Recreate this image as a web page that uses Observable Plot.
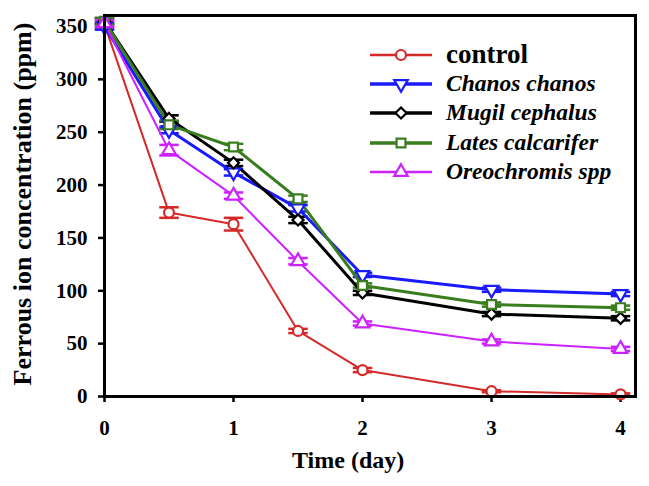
<!DOCTYPE html>
<html>
<head>
<meta charset="utf-8">
<script src="https://cdn.jsdelivr.net/npm/d3@7"></script>
<script src="https://cdn.jsdelivr.net/npm/@observablehq/plot@0.6"></script>
<style>
  body { margin: 0; background: #fff; }
  #wrap { position: relative; width: 649px; height: 486px; }
  .axlab { position: absolute; font-weight: bold; font-size: 24px; color: #000; white-space: nowrap; }
  #legend { position: absolute; left: 368px; top: 40px; }
  .row { display: flex; align-items: center; height: 29.3px; }
  .row span { margin-left: 14px; font-weight: bold; font-style: italic; font-size: 23.5px; line-height: 1; }
  .row span.ctrl { font-style: normal; font-size: 27px; }
</style>
</head>
<body>
<div id="wrap">
  <div id="chartbox"></div>
  <div class="axlab" id="xlab" style="font-family:'Liberation Serif';left:292px;top:447px"></div>
  <div class="axlab" id="ylab" style="font-family:'Liberation Serif';font-size:26px;left:23px;top:204px;transform:translate(-50%,-50%) rotate(-90deg)"></div>
  <div id="legend"></div>
</div>
<script>
const days = [0, 0.5, 1, 1.5, 2, 3, 4];
const seriesNames = ["control", "Chanos chanos", "Mugil cephalus", "Lates calcarifer", "Oreochromis spp"];
const control = [352, 174, 163, 62, 25, 5, 2];
const chanos  = [350, 252, 212, 178, 115, 101, 97];
const mugil   = [355, 263, 221, 167, 98, 78, 74];
const lates   = [355, 257, 236, 187, 105, 87, 84];
const oreo    = [353, 233, 190, 128, 69, 52, 45];
const controlErr = [3, 5, 6, 2, 2, 1, 1];
const chanosErr  = [3, 3, 3, 3, 2, 2, 2];
const mugilErr   = [3, 3, 3, 3, 2, 2, 2];
const latesErr   = [3, 4, 3, 3, 2, 2, 2];
const oreoErr    = [3, 5, 3, 3, 2, 2, 2];
const colors  = ["#d42a2a", "#1a1aff", "#000000", "#3a7d1f", "#cc22ff"];
const symbols = ["circle", "triangle", "diamond2", "square", "triangle"];
const rotates = [0, 180, 0, 0, 0];
const widths  = [2, 3, 3, 3, 2];
const xTicks = [0, 1, 2, 3, 4];
const yTicks = [0, 50, 100, 150, 200, 250, 300, 350];
const xLabel = "Time (day)";
const yLabel = "Ferrous ion concentration (ppm)";

const FONT = "Liberation Serif";
const valueSets = [control, chanos, mugil, lates, oreo];
const errSets = [controlErr, chanosErr, mugilErr, latesErr, oreoErr];
const series = seriesNames.map((name, i) => ({
  name, color: colors[i], symbol: symbols[i], rotate: rotates[i], width: widths[i],
  data: days.map((d, j) => ({x: d, y: valueSets[i][j], e: errSets[i][j]}))
}));

const capSymbol = { draw(ctx, size) { const w = Math.sqrt(size) * 1.1; ctx.moveTo(-w, 0); ctx.lineTo(w, 0); } };
const R = 5;

const marks = [];
for (const s of series) {
  marks.push(Plot.ruleX(s.data, {x: "x", y1: d => d.y - d.e, y2: d => d.y + d.e, stroke: s.color, strokeWidth: 2}));
  marks.push(Plot.dot(s.data, {x: "x", y: d => d.y - d.e, symbol: capSymbol, r: 5, stroke: s.color, strokeWidth: 2.5}));
  marks.push(Plot.dot(s.data, {x: "x", y: d => d.y + d.e, symbol: capSymbol, r: 5, stroke: s.color, strokeWidth: 2.5}));
}
for (const s of series) {
  marks.push(Plot.line(s.data, {x: "x", y: "y", stroke: s.color, strokeWidth: s.width}));
}
for (const s of series) {
  marks.push(Plot.dot(s.data, {x: "x", y: "y", symbol: s.symbol, rotate: s.rotate, r: R, fill: "white", stroke: s.color, strokeWidth: 2.2}));
}

const chart = Plot.plot({
  width: 649, height: 486,
  marginLeft: 104, marginRight: 14, marginTop: 15, marginBottom: 90,
  x: {domain: [0, 4.116]},
  y: {domain: [0, 360.4]},
  style: {fontFamily: FONT, fontSize: "21px", fontWeight: "bold", color: "#000", background: "#fff"},
  marks: [
    Plot.axisX({ticks: xTicks, tickSize: 6, tickPadding: 18, tickFormat: d => d, label: null, strokeWidth: 2.5, fontFamily: FONT, fontSize: 21, fontWeight: "bold"}),
    Plot.axisY({ticks: yTicks, tickSize: 6, tickPadding: 11, tickFormat: d => d, label: null, strokeWidth: 2.5, fontFamily: FONT, fontSize: 21, fontWeight: "bold"}),
    ...marks,
    Plot.frame({stroke: "black", strokeWidth: 3})
  ]
});
d3.select(chart).selectAll("text").attr("font-family", FONT).style("font-family", FONT);
document.getElementById("chartbox").appendChild(chart);

document.getElementById("xlab").textContent = xLabel;
document.getElementById("ylab").textContent = yLabel;

const legend = document.getElementById("legend");
const symMap = {circle: d3.symbolCircle, triangle: d3.symbolTriangle, diamond2: d3.symbolDiamond2, square: d3.symbolSquare};
series.forEach((s, i) => {
  const row = document.createElement("div");
  row.className = "row";
  const svg = d3.create("svg").attr("width", 64).attr("height", 20);
  svg.append("line").attr("x1", 2).attr("x2", 64).attr("y1", 10).attr("y2", 10).attr("stroke", s.color).attr("stroke-width", s.width + 0.5);
  svg.append("path").attr("d", d3.symbol(symMap[s.symbol], R * R * Math.PI)())
    .attr("transform", `translate(33,10) rotate(${s.rotate})`)
    .attr("fill", "white").attr("stroke", s.color).attr("stroke-width", 2.2);
  row.appendChild(svg.node());
  const t = document.createElement("span");
  t.style.fontFamily = FONT;
  t.textContent = s.name;
  if (i === 0) t.className = "ctrl";
  row.appendChild(t);
  legend.appendChild(row);
});
</script>
</body>
</html>
